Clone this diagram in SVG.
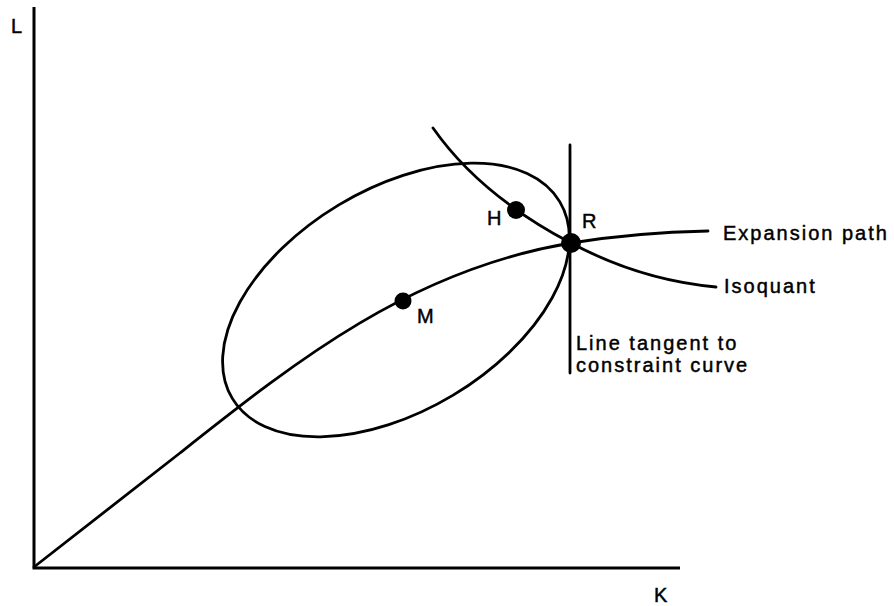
<svg xmlns="http://www.w3.org/2000/svg" width="894" height="606" viewBox="0 0 894 606">
<style>
.ln{fill:none;stroke:#000;stroke-width:2.8;stroke-linecap:round}
.ax{fill:none;stroke:#000;stroke-width:3}
.dot{fill:#000}
.t{font-family:"Liberation Sans",Arial,sans-serif;font-size:20px;fill:#000;stroke:#000;stroke-width:0.45;letter-spacing:2px}
</style>
<rect width="894" height="606" fill="#fff"/>
<g id="axes">
<path class="ax" d="M34,7 V568 H680"/>
<text class="t" x="11" y="33">L</text>
<text class="t" x="654" y="602">K</text>
</g>
<g id="connectors">
<ellipse class="ln" cx="396" cy="300" rx="191" ry="111" transform="rotate(-31 396 300)"/>
<path id="expansion-path" class="ln" d="M34,567 L180,453 C295,362 410,270 571,243 C620,235 660,232 708,231"/>
<path id="isoquant" class="ln" d="M433,128 Q480,195 571,243 Q640,280 716,287"/>
<path id="tangent" class="ln" d="M570,145 V373"/>
</g>
<g id="node-M">
<circle class="dot" cx="403" cy="301" r="8.5"/>
<text class="t" x="417" y="323">M</text>
</g>
<g id="node-H">
<circle class="dot" cx="516" cy="210" r="9"/>
<text class="t" x="487" y="225">H</text>
</g>
<g id="node-R">
<circle class="dot" cx="571" cy="243" r="10"/>
<text class="t" x="582" y="228">R</text>
</g>
<g id="labels">
<text class="t" x="723" y="240">Expansion path</text>
<text class="t" x="724" y="293">Isoquant</text>
<text class="t" x="576" y="350">Line tangent to</text>
<text class="t" x="576" y="372">constraint curve</text>
</g>
</svg>
